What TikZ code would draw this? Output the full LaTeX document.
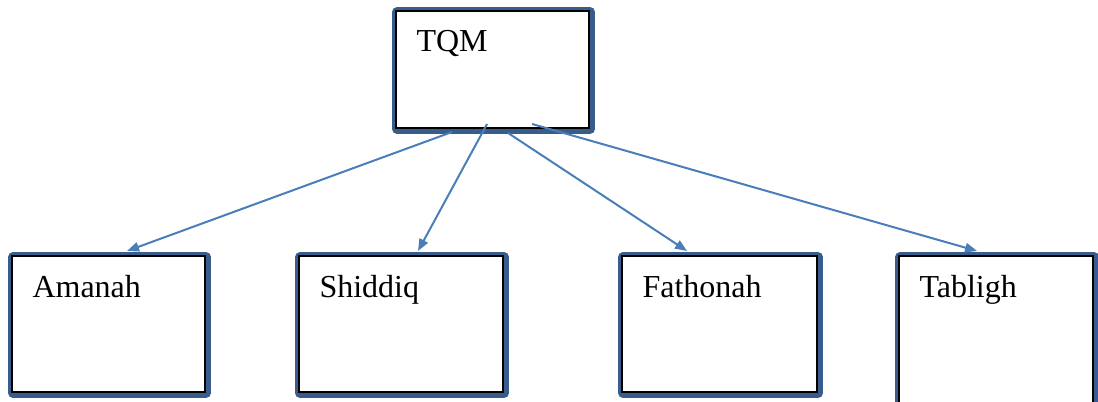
\documentclass[tikz,border=0pt]{standalone}
\usepackage{fontspec}
\setmainfont{Liberation Serif}
\usetikzlibrary{calc,arrows.meta}

\definecolor{shadowblue}{RGB}{56,93,138}
\definecolor{linkblue}{RGB}{74,126,187}

\tikzset{
  box/.style={draw=black, line width=1.8pt, fill=white, anchor=north west, outer sep=0pt,
    inner xsep=15.4pt, inner ysep=0pt, align=left, text height=30.75pt,
    font=\fontsize{24}{29}\selectfont,
    preaction={draw=shadowblue, line width=7.5pt, line join=round,
      transform canvas={shift={(0.8pt,-0.8pt)}}}},
  link/.style={draw=linkblue, line width=1.5pt, -{Triangle[length=9pt,width=7pt]}}
}

\begin{document}
\begin{tikzpicture}[x=0.75pt,y=0.75pt,yscale=-1,xscale=1]
\useasboundingbox (0,0) rectangle (1098,402);

%Shape: Rectangle (top)
\node [box, text width=114pt, text depth=57pt] (tqm) at (396,11) {TQM};

%Shape: Rectangles (bottom row)
\node [box, text width=114pt, text depth=71.25pt] (amanah) at (12,256) {Amanah};
\node [box, text width=122.25pt, text depth=71.25pt] (shiddiq) at (299,256) {Shiddiq};
\node [box, text width=115.5pt, text depth=71.25pt] (fathonah) at (622,256) {Fathonah};
\node [box, text width=114.75pt, text depth=99.75pt] (tabligh) at (899,256) {Tabligh};

%Straight Lines
\draw [link] ($(tqm.south)+(-40.5,4)$) -- ($(amanah.north)+(18.5,-5)$) ;
\draw [link] ($(tqm.south)+(-5.5,-4)$) -- ($(shiddiq.north)+(17,-5)$) ;
\draw [link] ($(tqm.south)+(15.5,5)$) -- ($(fathonah.north)+(-32.5,-5)$) ;
\draw [link] ($(tqm.south)+(39.5,-4)$) -- ($(tabligh.north)+(-19,-5)$) ;

\end{tikzpicture}
\end{document}
